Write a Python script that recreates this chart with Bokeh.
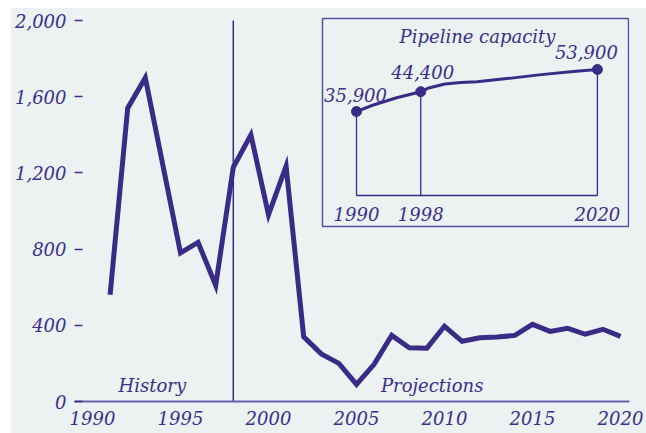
from bokeh.plotting import figure
from bokeh.layouts import column, row
from bokeh.models import Range1d, FixedTicker, NumeralTickFormatter, Spacer
from bokeh.core.properties import value
from bokeh.embed import file_html
from bokeh.resources import INLINE

# ---------------- data ----------------
years = list(range(1991, 2021))
imports = [560, 1540, 1700, 1240, 780, 835, 610, 1230, 1400, 980, 1235, 340, 250, 200, 90,
           195, 347, 282, 280, 395, 316, 335, 338, 347, 405, 368, 384, 353, 379, 342]
split_year = 1998
x_ticks = [1990, 1995, 2000, 2005, 2010, 2015, 2020]
y_ticks = [0, 400, 800, 1200, 1600, 2000]
period_labels = ["History", "Projections"]

cap_years = [1990, 1992, 1995, 1998, 1999, 2001, 2003, 2005, 2009, 2013, 2017, 2020]
cap_values = [35900, 38600, 41800, 44400, 46000, 47700, 48300, 48700, 50100, 51700, 53000, 53900]
cap_mark_years = [1990, 1998, 2020]
cap_mark_values = [35900, 44400, 53900]
inset_title = "Pipeline capacity"

# ---------------- style ----------------
BG = "#ECF1F1"
LINE = "#3A2B86"
TEXT = "#3B2F8A"
AXIS = "#6A5FAA"
BOX = "#5A4E9E"
FONT = value("DejaVu Serif")
FS = "18px"

# geometry in page px; the figure sits at page (PX0, PY0)
PX0, PY0 = 10, 7
W, H = 646 - PX0, 433 - PY0
FL, FR, FT, FB = 74, 629, 16, 401        # frame edges in page px
MX_1990, MX_PPY = 92, 17.6               # main x: 1990 position, px per year
MY_PPU = 381 / 2000                      # main y: px per unit

IX_1990, IX_PPY = 356, 8.03              # inset x mapping
IY_0, IY_PPU = 195, 0.002338             # inset y mapping


def inx(px):
    return 1990 + (px - IX_1990) / IX_PPY


def iny(py):
    return (IY_0 - py) / IY_PPU


x_range = Range1d(1990 - (MX_1990 - FL) / MX_PPY, 1990 + (FR - MX_1990) / MX_PPY)
y_range = Range1d(0, (FB - FT) / MY_PPU)

p = figure(width=W, height=H, x_range=x_range, y_range=y_range,
           output_backend="svg", toolbar_location=None,
           min_border_left=FL - PX0, min_border_right=646 - FR,
           min_border_top=FT - PY0, min_border_bottom=433 - FB,
           background_fill_color=BG, border_fill_color=BG,
           outline_line_color=None)
p.xgrid.visible = False
p.ygrid.visible = False

p.extra_x_ranges = {"ix": Range1d(inx(FL), inx(FR))}
p.extra_y_ranges = {"iy": Range1d(iny(FB), iny(FT))}

xa = p.xaxis[0]
xa.ticker = FixedTicker(ticks=x_ticks)
xa.axis_line_color = AXIS
xa.axis_line_width = 2
xa.major_tick_in = 0
xa.major_tick_out = 0
xa.minor_tick_line_color = None
xa.major_label_standoff = 9
xa.major_label_text_font = "DejaVu Serif"
xa.major_label_text_font_style = "italic"
xa.major_label_text_font_size = FS
xa.major_label_text_color = TEXT

ya = p.yaxis[0]
ya.ticker = FixedTicker(ticks=y_ticks)
ya.formatter = NumeralTickFormatter(format="0,0")
ya.axis_line_color = None
ya.major_tick_in = 8
ya.major_tick_out = 0
ya.major_tick_line_color = TEXT
ya.major_tick_line_width = 1.5
ya.minor_tick_line_color = None
ya.major_label_standoff = 8
ya.major_label_text_font = "DejaVu Serif"
ya.major_label_text_font_style = "italic"
ya.major_label_text_font_size = FS
ya.major_label_text_color = TEXT

# history / projection divider
p.segment(x0=[split_year], y0=[0], x1=[split_year], y1=[y_ticks[-1]],
          line_color=LINE, line_width=1.5)

# main series
p.line(years, imports, line_color=LINE, line_width=5, line_join="miter")

# period labels
p.text(x=[split_year - 4.6, split_year + 11.3], y=[85, 85], text=period_labels,
       text_font=FONT, text_font_style="italic", text_font_size=FS,
       text_color=TEXT, text_align="center", text_baseline="middle")

# ---------------- inset ----------------
p.quad(left=[inx(322)], right=[inx(628)], top=[iny(18)], bottom=[iny(226)],
       fill_color=None, line_color=BOX, line_width=1.5,
       x_range_name="ix", y_range_name="iy")

p.segment(x0=[cap_mark_years[0]], y0=[0], x1=[cap_mark_years[-1]], y1=[0],
          line_color=LINE, line_width=1.3, x_range_name="ix", y_range_name="iy")
p.segment(x0=cap_mark_years, y0=[0] * len(cap_mark_years), x1=cap_mark_years,
          y1=cap_mark_values, line_color=LINE, line_width=1.3,
          x_range_name="ix", y_range_name="iy")
p.line(cap_years, cap_values, line_color=LINE, line_width=3,
       x_range_name="ix", y_range_name="iy")
p.scatter(cap_mark_years, cap_mark_values, size=10, color=LINE,
          x_range_name="ix", y_range_name="iy")

# value labels: shifted (dx, dy) page px from each marker
lab_dx = [-1, 2, -11]
lab_dy = [17, 20, 17]
p.text(x=[yr + dx / IX_PPY for yr, dx in zip(cap_mark_years, lab_dx)],
       y=[v + dy / IY_PPU for v, dy in zip(cap_mark_values, lab_dy)],
       text=[f"{v:,}" for v in cap_mark_values],
       text_font=FONT, text_font_style="italic", text_font_size=FS,
       text_color=TEXT, text_align="center", text_baseline="alphabetic",
       x_range_name="ix", y_range_name="iy")
p.text(x=cap_mark_years, y=[iny(213)] * len(cap_mark_years), text=[str(y) for y in cap_mark_years],
       text_font=FONT, text_font_style="italic", text_font_size=FS,
       text_color=TEXT, text_align="center", text_baseline="alphabetic",
       x_range_name="ix", y_range_name="iy")
p.text(x=[inx(477)], y=[iny(36)], text=[inset_title],
       text_font=FONT, text_font_style="italic", text_font_size=FS,
       text_color=TEXT, text_align="center", text_baseline="alphabetic",
       x_range_name="ix", y_range_name="iy")

page = column(Spacer(height=PY0, width=646), row(Spacer(width=PX0, height=H), p))
open("out.html", "w").write(file_html(page, INLINE))
